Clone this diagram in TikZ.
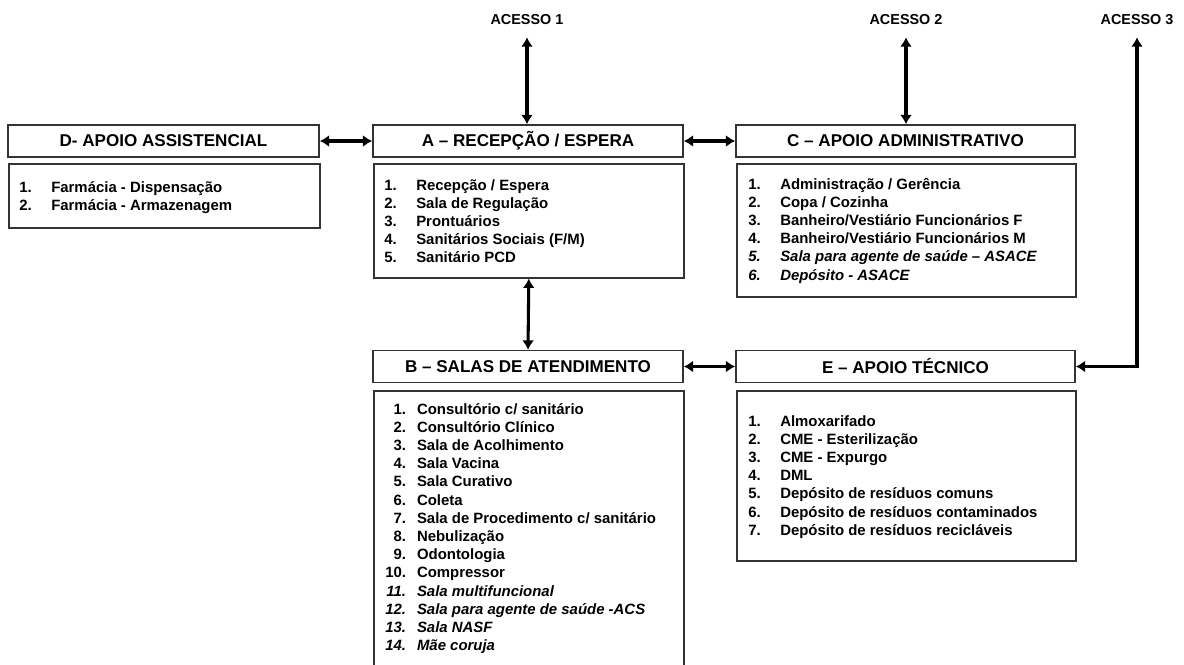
\documentclass[tikz,border=0pt]{standalone}
\usepackage{fontspec}
\setmainfont{Liberation Sans}
\usetikzlibrary{arrows.meta}
\begin{document}
\begin{tikzpicture}[x=0.75pt,y=-0.75pt,>={Latex[length=7pt,width=9pt]},
	head/.style={draw=black!80,line width=1.2pt,inner sep=0pt,minimum height=24pt,font=\fontsize{12.8}{15}\selectfont\bfseries},
	body/.style={draw=black!80,line width=1.2pt,inner sep=0pt,anchor=north west},
	items/.style={anchor=base west,inner sep=0pt,align=left,font=\fontsize{11.2}{13.65}\selectfont\bfseries},
	gate/.style={inner sep=0pt,font=\fontsize{10.8}{13}\selectfont\bfseries},
	link/.style={<->,line width=2.3pt}]
		\useasboundingbox (0,0) rectangle (1184,664);
		\clip (0,0) rectangle (1184,664);
		\node[gate] (acc1) at (527,20) {ACESSO 1};
		\node[gate] (acc2) at (906,20) {ACESSO 2};
		\node[gate] (acc3) at (1137,20) {ACESSO 3};
		\node[head,minimum width=233.25pt] (D) at (163.5,141) {D- APOIO ASSISTENCIAL};
		\node[head,minimum width=232.5pt] (A) at (528,141) {A – RECEPÇÃO / ESPERA};
		\node[head,minimum width=254.25pt] (C) at (905.5,141) {C – APOIO ADMINISTRATIVO};
		\node[head,minimum width=232.5pt] (B) at (528,366.5) {B – SALAS DE ATENDIMENTO};
		\node[head,minimum width=254.25pt] (E) at (905.5,366.5) {E – APOIO TÉCNICO};
		\node[body,minimum width=233.25pt,minimum height=48pt] (Dbox) at (8,163) {};
		\node[body,minimum width=232.5pt,minimum height=85.5pt] (Abox) at (373,163) {};
		\node[body,minimum width=254.25pt,minimum height=99.75pt] (Cbox) at (736,163) {};
		\node[body,minimum width=232.5pt,minimum height=210pt] (Bbox) at (373,390) {};
		\node[body,minimum width=254.25pt,minimum height=127.5pt] (Ebox) at (736,390) {};
		\node[items] (Dlist) at (19,192) {\begin{tabular}[t]{@{}p{24pt}@{}l@{}}
			1.&Farmácia - Dispensação\\
			2.&Farmácia - Armazenagem
		\end{tabular}};
		\node[items] (Alist) at (384,190) {\begin{tabular}[t]{@{}p{24pt}@{}l@{}}
			1.&Recepção / Espera\\
			2.&Sala de Regulação\\
			3.&Prontuários\\
			4.&Sanitários Sociais (F/M)\\
			5.&Sanitário PCD
		\end{tabular}};
		\node[items] (Clist) at (748,189) {\begin{tabular}[t]{@{}p{24pt}@{}l@{}}
			1.&Administração / Gerência\\
			2.&Copa / Cozinha\\
			3.&Banheiro/Vestiário Funcionários F\\
			4.&Banheiro/Vestiário Funcionários M\\
			\itshape 5.&\itshape Sala para agente de saúde – ASACE\\
			\itshape 6.&\itshape Depósito - ASACE
		\end{tabular}};
		\node[items] (Blist) at (385,414) {\begin{tabular}[t]{@{}r@{\hspace{8.25pt}}l@{}}
			1.&Consultório c/ sanitário\\
			2.&Consultório Clínico\\
			3.&Sala de Acolhimento\\
			4.&Sala Vacina\\
			5.&Sala Curativo\\
			6.&Coleta\\
			7.&Sala de Procedimento c/ sanitário\\
			8.&Nebulização\\
			9.&Odontologia\\
			10.&Compressor\\
			\itshape 11.&\itshape Sala multifuncional\\
			\itshape 12.&\itshape Sala para agente de saúde -ACS\\
			\itshape 13.&\itshape Sala NASF\\
			\itshape 14.&\itshape Mãe coruja
		\end{tabular}};
		\node[items] (Elist) at (748,426) {\begin{tabular}[t]{@{}p{24pt}@{}l@{}}
			1.&Almoxarifado\\
			2.&CME - Esterilização\\
			3.&CME - Expurgo\\
			4.&DML\\
			5.&Depósito de resíduos comuns\\
			6.&Depósito de resíduos contaminados\\
			7.&Depósito de resíduos recicláveis
		\end{tabular}};
		\draw[link,shorten <=9pt] (acc1.south)--(acc1.south |- A.north);
		\draw[link,shorten <=9pt] (acc2.south)--(acc2.south |- C.north);
		\draw[link] (D.east)--(A.west);
		\draw[link] (A.east)--(C.west);
		\draw[link] (Abox.south)--(B.north);
		\draw[link] (B.east)--(E.west);
		\draw[link,shorten >=9pt] (E.east)-|(acc3.south);
	\end{tikzpicture}
\end{document}
